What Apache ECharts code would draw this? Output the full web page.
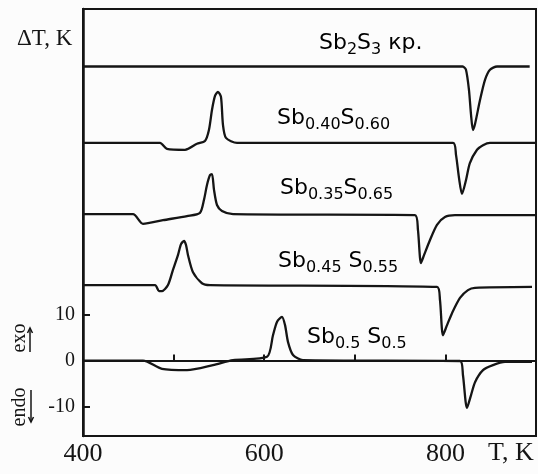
<!DOCTYPE html>
<html>
<head>
<meta charset="utf-8">
<script src="https://cdn.jsdelivr.net/npm/echarts@6/dist/echarts.min.js"></script>
<style>
  html, body { margin: 0; padding: 0; background: #fcfcfc; }
  #chart { width: 538px; height: 474px; }
</style>
</head>
<body>
<div id="chart"></div>
<script>
// DTA curves, [T (K), ΔT (K)], each shifted by its own baseline
const sb2s3 = [[400,63.9],[819,63.9],[822.7,63.2],[826,58.8],[828.3,53.4],[830.4,50.1],[832.7,51.4],
    [838.2,56.6],[843.7,61.0],[849.2,63.2],[857,63.9],[893,63.9]];
const sb040 = [[400,47.3],[485,47.3],[492.7,46.0],[512.6,45.8],[525.8,47.1],[534.6,47.7],[539,50.1],
    [542.4,54.5],[545.7,57.5],[549,58.4],[552.3,57.3],[554.5,51.2],[557.8,48.4],[570,47.3],[808.4,47.3],
    [811.7,44.7],[815,39.7],[818.3,36.2],[822.7,39.2],[827,42.9],[834.9,45.8],[841.5,46.8],[849.2,47.3],[900,47.3]];
const sb035 = [[400,31.8],[455.2,31.8],[466.2,29.7],[488.3,30.5],[514.8,31.4],[529.1,32.1],[533.5,34.9],
    [536.9,38.2],[540.2,40.3],[542.4,40.5],[544.6,37.1],[547.9,33.8],[553.4,32.5],[565.6,31.8],[766.4,31.6],
    [769.7,28.4],[773,21.2],[776.4,22.9],[783,26.2],[790.7,29.5],[799.5,31.2],[810.6,31.6],[900,31.6]];
const sb045 = [[400,16.4],[479.5,16.4],[483.9,15.1],[487.2,15.1],[493.8,16.4],[499.3,19.7],[504.8,22.9],
    [508.2,25.3],[511.5,26.0],[513.7,25.1],[515.9,22.9],[521.4,19.2],[531.3,16.8],[540.2,16.4],[790.7,16.0],
    [794,13.2],[797.3,5.5],[801.8,7.7],[807.3,10.3],[816.1,13.6],[824.9,15.3],[832.7,15.8],[895.6,16.0]];
const sb050 = [[400,0],[466.2,0],[487.2,-1.8],[514.8,-2.1],[543.5,-1.0],[565.6,0.1],[603.1,0.8],[609.7,5.5],
    [614.1,8.4],[619.6,9.5],[623,7.7],[626.3,4.0],[631.8,1.2],[642.8,0.1],[816.1,-0.1],[819.4,-3.2],
    [823.8,-10.3],[828.3,-7.5],[832.7,-4.7],[841.5,-2.1],[852.5,-1.0],[865.8,-0.3],[895.6,-0.3]];

const curves = [sb2s3, sb040, sb035, sb045, sb050];
const xTicks = [500, 600, 700, 800];
const xLabels = [400, 600, 800];
const yTicks = [-10, 0, 10];

const ink = '#151515';
const serif = 'Liberation Serif';
const sans = 'DejaVu Sans';

const chart = echarts.init(document.getElementById('chart'));

// formula label: main letters raised, indices sit lower
function formula(parts) {
    return parts.map((p, i) => (i % 2 === 0 ? '{m|' : '{s|') + p + '}').join('');
}
const richStyle = {
    m: { fontFamily: sans, fontSize: 22, color: ink, verticalAlign: 'bottom', padding: [0, 0, 4, 0] },
    s: { fontFamily: sans, fontSize: 16, color: ink, verticalAlign: 'bottom' }
};
function label(x, y, text) {
    return { type: 'text', x, y, style: { text, rich: richStyle, align: 'left', verticalAlign: 'middle' } };
}
function arrow(x, y0, y1) {
    const d = y1 < y0 ? 5 : -5;
    return {
        type: 'group', children: [
            { type: 'line', shape: { x1: x, y1: y0, x2: x, y2: y1 }, style: { stroke: ink, lineWidth: 1.5 } },
            { type: 'polyline', shape: { points: [[x - 2.5, y1 + d], [x, y1], [x + 2.5, y1 + d]] }, style: { stroke: ink, lineWidth: 1.5, fill: null } }
        ]
    };
}

chart.setOption({
    backgroundColor: '#fcfcfc',
    animation: false,
    grid: { left: 83, right: 2, top: 9, bottom: 38, show: true, borderColor: ink, borderWidth: 2 },
    xAxis: {
        type: 'value', min: 400, max: 900,
        axisLine: { show: true, lineStyle: { color: ink, width: 2 } },
        axisTick: { show: true, inside: true, length: 6, customValues: xTicks, lineStyle: { color: ink, width: 2 } },
        axisLabel: { customValues: xLabels, margin: 5, fontFamily: serif, fontSize: 26, color: ink },
        splitLine: { show: false }
    },
    yAxis: {
        type: 'value', min: -16.4, max: 76.4,
        axisLine: { show: true, lineStyle: { color: ink, width: 2.5 } },
        axisTick: { show: true, inside: true, length: 7, customValues: yTicks, lineStyle: { color: ink, width: 2 } },
        axisLabel: { customValues: yTicks, margin: 8, fontFamily: serif, fontSize: 20, color: ink },
        splitLine: { show: false }
    },
    series: curves.map(c => ({
        type: 'line', data: c, symbol: 'none', smooth: 0.25,
        lineStyle: { color: ink, width: 2.3, join: 'round' }
    })),
    graphic: [
        { type: 'text', x: 17, y: 39, style: { text: 'ΔT, K', fontFamily: serif, fontSize: 23, fill: ink, verticalAlign: 'middle' } },
        { type: 'text', x: 488, y: 453, style: { text: 'T, K', fontFamily: serif, fontSize: 26, fill: ink, verticalAlign: 'middle' } },
        { type: 'text', x: 20, y: 338, rotation: Math.PI / 2, style: { text: 'exo', fontFamily: serif, fontSize: 20, fill: ink, align: 'center', verticalAlign: 'middle' } },
        { type: 'text', x: 20, y: 407, rotation: Math.PI / 2, style: { text: 'endo', fontFamily: serif, fontSize: 20, fill: ink, align: 'center', verticalAlign: 'middle' } },
        arrow(30, 352, 328),
        arrow(31, 390, 422),
        label(319, 45, formula(['Sb', '2', 'S', '3']) + '{m| кр.}'),
        label(277, 120, formula(['Sb', '0.40', 'S', '0.60'])),
        label(280, 190, formula(['Sb', '0.35', 'S', '0.65'])),
        label(278, 263, formula(['Sb', '0.45', ' S', '0.55'])),
        label(307, 339, formula(['Sb', '0.5', ' S', '0.5']))
    ]
});
</script>
</body>
</html>
